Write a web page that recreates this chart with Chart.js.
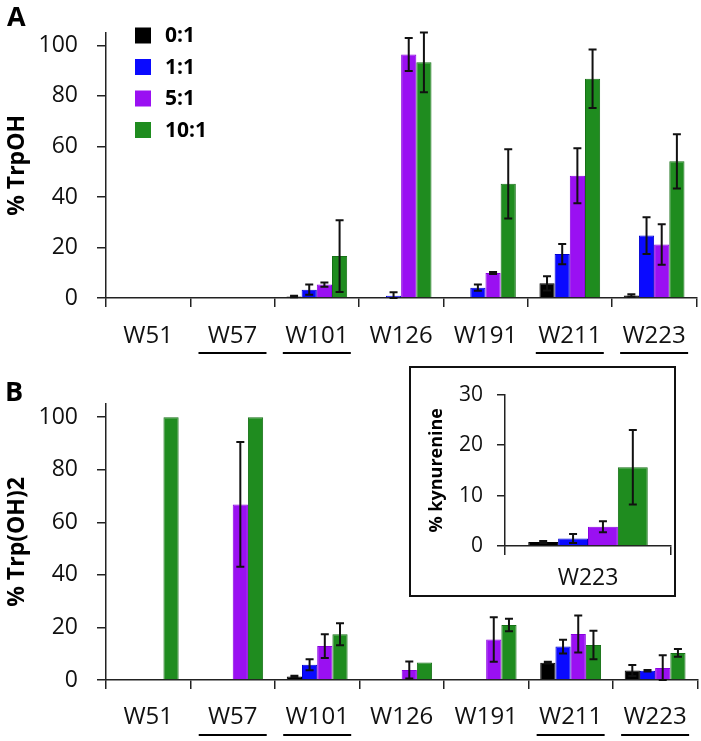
<!DOCTYPE html>
<html>
<head>
<meta charset="utf-8">
<script src="https://cdn.jsdelivr.net/npm/chart.js@4.4.1/dist/chart.umd.min.js"></script>
<style>
  body { margin: 0; background: #fff; width: 701px; height: 741px; position: relative; overflow: hidden; }
  .box { position: absolute; }
  .letter { position: absolute; font: bold 27px "Open Sans"; color: #000; line-height: 1; }
  #inset { border: 2px solid #111; background: #fff; }
</style>
</head>
<body>
<div class="box" style="left:0;top:0;width:701px;height:370px"><canvas id="chartA"></canvas></div>
<div class="box" style="left:0;top:370px;width:701px;height:371px"><canvas id="chartB"></canvas></div>
<div class="box" id="inset" style="left:409px;top:366px;width:263px;height:227px"><canvas id="chartC"></canvas></div>
<div class="letter" style="left:7px;top:2px">A</div>
<div class="letter" style="left:5px;top:377px">B</div>
<script>
// categories
const sites = ['W51', 'W57', 'W101', 'W126', 'W191', 'W211', 'W223'];
const underlined = ['W57', 'W101', 'W211', 'W223'];
const ratios = ['0:1', '1:1', '5:1', '10:1'];
const colors = ['#000000', '#0a0aff', '#9a10f2', '#1f8c1f'];
const borders = ['#000000', '#0000d0', '#8a00e0', '#167016'];

// tick labels
const mainTicks = [0, 20, 40, 60, 80, 100];
const insetTicks = [0, 10, 20, 30];

// panel A - % TrpOH
const trpOH_0  = [null, null, 0.6, 0.3, null, 5.8, 1.0];
const trpOH_1  = [null, null, 3.3, 0.9, 4.1, 17.4, 24.7];
const trpOH_5  = [null, null, 5.3, 96.4, 9.9, 48.4, 21.2];
const trpOH_10 = [null, null, 16.6, 93.3, 45.2, 86.8, 54.1];
const trpOHErr_0  = [null, null, 0.3, null, null, 2.8, 0.5];
const trpOHErr_1  = [null, null, 2.0, 1.4, 1.2, 4.0, 7.3];
const trpOHErr_5  = [null, null, 0.8, 6.5, 0.4, 10.9, 8.0];
const trpOHErr_10 = [null, null, 14.2, 11.8, 13.7, 11.6, 10.7];

// panel B - % Trp(OH)2
const trpOH2_0  = [null, null, 1.3, null, null, 6.6, 3.6];
const trpOH2_1  = [null, null, 5.8, null, null, 12.7, 3.5];
const trpOH2_5  = [null, 66.8, 12.9, 3.8, 15.4, 17.5, 4.6];
const trpOH2_10 = [100, 100, 17.4, 6.7, 20.9, 13.3, 10.3];
const trpOH2Err_0  = [null, null, 0.3, null, null, 0.3, 2.1];
const trpOH2Err_1  = [null, null, 2.1, null, null, 2.6, 0.3];
const trpOH2Err_5  = [null, 23.7, 4.5, 3.2, 8.5, 7.0, 4.8];
const trpOH2Err_10 = [null, null, 4.2, null, 2.4, 5.4, 1.5];

// inset - % kynurenine (W223)
const kynSite = ['W223'];
const kyn    = [0.8, 1.5, 3.8, 15.6];
const kynErr = [0.2, 0.9, 1.1, 7.4];

const FONT = 'Open Sans';
const AXIS = '#222';

// error bars drawn on top of each bar
const errorBars = {
  id: 'errorBars',
  afterDatasetsDraw(chart) {
    const ctx = chart.ctx, y = chart.scales.y;
    ctx.save();
    ctx.strokeStyle = '#111';
    ctx.lineWidth = 2;
    chart.data.datasets.forEach((ds, di) => {
      chart.getDatasetMeta(di).data.forEach((bar, i) => {
        const v = ds.data[i], e = ds.errors ? ds.errors[i] : null;
        if (v == null || e == null) return;
        const top = y.getPixelForValue(v + e);
        const bot = y.getPixelForValue(Math.max(0, v - e));
        ctx.beginPath();
        ctx.moveTo(bar.x, top); ctx.lineTo(bar.x, bot);
        ctx.moveTo(bar.x - 4, top); ctx.lineTo(bar.x + 4, top);
        ctx.moveTo(bar.x - 4, bot); ctx.lineTo(bar.x + 4, bot);
        ctx.stroke();
      });
    });
    ctx.restore();
  }
};

// legend boxes inside panel A
const boxLegend = {
  id: 'boxLegend',
  afterDraw(chart) {
    const ctx = chart.ctx;
    ctx.save();
    ctx.font = 'bold 21px ' + FONT;
    ctx.textBaseline = 'middle';
    chart.data.datasets.forEach((ds, i) => {
      const yy = 35.5 + i * 31.5;
      ctx.fillStyle = ds.backgroundColor;
      ctx.fillRect(135, yy - 8, 16, 16);
      ctx.fillStyle = '#000';
      ctx.fillText(ds.label, 165, yy + 1);
    });
    ctx.restore();
  }
};

// lines under some site labels
const underlines = {
  id: 'underlines',
  afterDraw(chart) {
    const x = chart.scales.x, ctx = chart.ctx;
    const yy = chart.chartArea.bottom + 55;
    ctx.save();
    ctx.strokeStyle = '#000';
    ctx.lineWidth = 2;
    underlined.forEach(name => {
      const px = x.getPixelForValue(sites.indexOf(name));
      ctx.beginPath();
      ctx.moveTo(px - 34, yy); ctx.lineTo(px + 34, yy);
      ctx.stroke();
    });
    ctx.restore();
  }
};

function makeDatasets(values, errors) {
  return ratios.map((r, i) => ({
    label: r,
    data: values[i],
    errors: errors[i],
    backgroundColor: colors[i],
    borderColor: borders[i],
    borderWidth: 1,
    categoryPercentage: 0.72,
    barPercentage: 1.0
  }));
}

function makeOptions(o) {
  return {
    responsive: true,
    maintainAspectRatio: false,
    animation: false,
    layout: { padding: { top: o.top, right: 3, left: 0, bottom: 0 } },
    plugins: { legend: { display: false }, tooltip: { enabled: false } },
    scales: {
      x: {
        offset: true,
        grid: { display: true, offset: true, drawOnChartArea: false, tickLength: 9, color: AXIS, lineWidth: 1.5 },
        border: { display: true, color: AXIS, width: 1.5 },
        ticks: { font: { family: FONT, size: o.xSize }, color: '#111', padding: o.xPad, maxRotation: 0, autoSkip: false },
        afterFit: s => { s.height = o.xHeight; }
      },
      y: {
        min: 0,
        max: o.max,
        afterBuildTicks: s => { s.ticks = o.ticks.map(v => ({ value: v })); },
        ticks: { font: { family: FONT, size: o.ySize }, color: '#111', padding: o.yPad },
        grid: { drawOnChartArea: false, tickLength: o.tick, color: AXIS, lineWidth: 1.5 },
        border: { display: true, color: AXIS, width: 1.5 },
        title: {
          display: true, text: o.title, color: '#000',
          font: { family: FONT, size: o.titleSize, weight: 'bold' },
          padding: { top: o.titlePad, bottom: 0 }
        },
        afterFit: s => { s.width = o.yWidth; }
      }
    }
  };
}

new Chart(document.getElementById('chartA'), {
  type: 'bar',
  data: {
    labels: sites,
    datasets: makeDatasets([trpOH_0, trpOH_1, trpOH_5, trpOH_10],
                           [trpOHErr_0, trpOHErr_1, trpOHErr_5, trpOHErr_10])
  },
  options: makeOptions({ top: 22, max: 105, ticks: mainTicks, title: '% TrpOH', titleSize: 23, titlePad: 4,
                         ySize: 23, yPad: 19, tick: 9, yWidth: 106, xSize: 24, xPad: 15, xHeight: 72 }),
  plugins: [errorBars, boxLegend, underlines]
});

new Chart(document.getElementById('chartB'), {
  type: 'bar',
  data: {
    labels: sites,
    datasets: makeDatasets([trpOH2_0, trpOH2_1, trpOH2_5, trpOH2_10],
                           [trpOH2Err_0, trpOH2Err_1, trpOH2Err_5, trpOH2Err_10])
  },
  options: makeOptions({ top: 34, max: 105, ticks: mainTicks, title: '% Trp(OH)2', titleSize: 23, titlePad: 4,
                         ySize: 23, yPad: 19, tick: 9, yWidth: 106, xSize: 24, xPad: 14, xHeight: 61 }),
  plugins: [errorBars, underlines]
});

new Chart(document.getElementById('chartC'), {
  type: 'bar',
  data: {
    labels: kynSite,
    datasets: ratios.map((r, i) => ({
      label: r,
      data: [kyn[i]],
      errors: [kynErr[i]],
      backgroundColor: colors[i],
      borderColor: borders[i],
      borderWidth: 1,
      categoryPercentage: 0.72,
      barPercentage: 1.0
    }))
  },
  options: makeOptions({ top: 24, max: 30, ticks: insetTicks, title: '% kynurenine', titleSize: 18, titlePad: 15,
                         ySize: 21, yPad: 14, tick: 8, yWidth: 94, xSize: 23, xPad: 10, xHeight: 49 }),
  plugins: [errorBars]
});
</script>
</body>
</html>
